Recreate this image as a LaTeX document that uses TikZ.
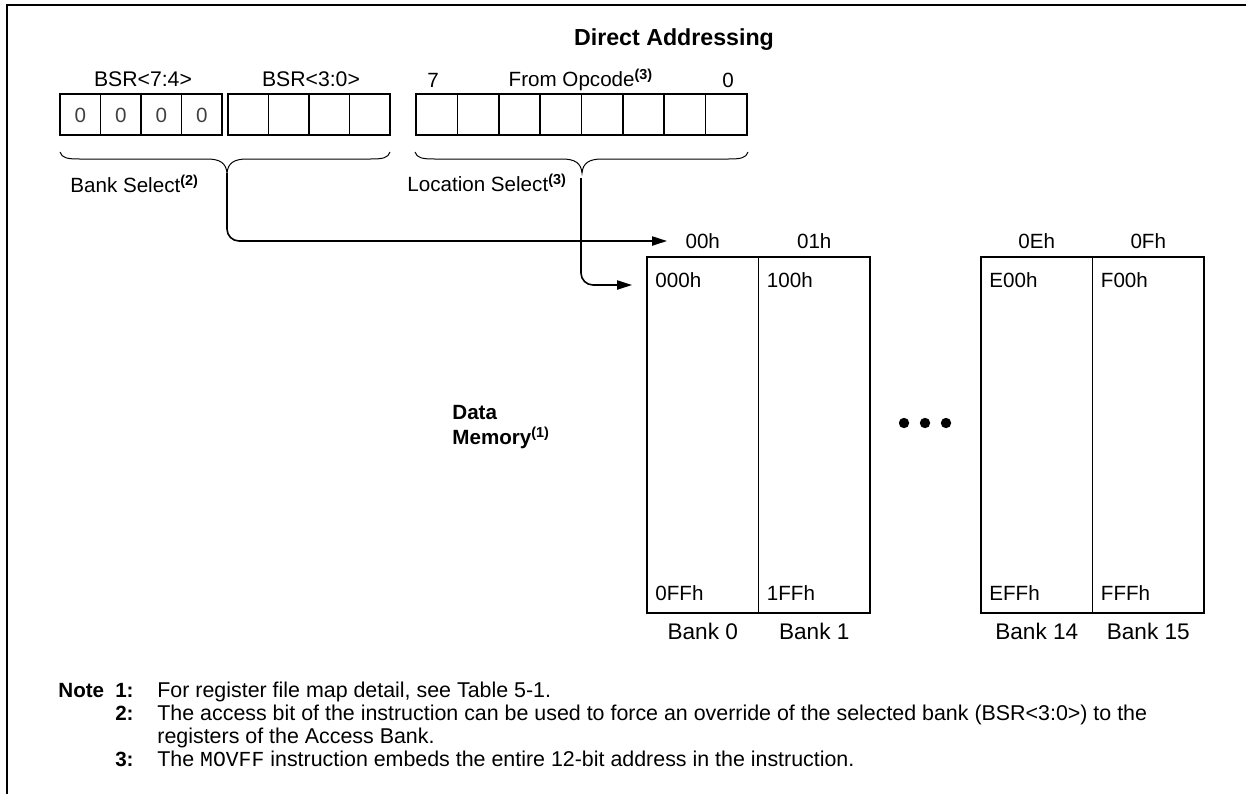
\documentclass[tikz,border=0pt]{standalone}
\usepackage{fontspec}
\setmainfont{Liberation Sans}
\setmonofont{Liberation Mono}
\usetikzlibrary{arrows.meta}
\begin{document}
\begin{tikzpicture}[x=0.5pt, y=-0.5pt,
  every node/.style={font=\fontsize{10.3}{12.5}\selectfont, inner sep=0pt},
  lbl/.style={text height=1.38ex, text depth=0pt},
  hdr/.style={font=\fontsize{10.3}{12.5}\selectfont\bfseries},
  banklbl/.style={font=\fontsize{11.3}{13}\selectfont},
  notetxt/.style={font=\fontsize{10.7}{12.5}\selectfont},
  regbox/.style={draw, line width=0.85pt},
  bankbox/.style={draw, line width=0.85pt},
  bracepath/.style={line width=0.5pt},
  link/.style={line width=0.8pt, rounded corners=6pt, -{Triangle[length=7.5pt,width=4.6pt]}}
]
\useasboundingbox (0,0) rectangle (1246,794);
\draw[line width=1.3pt] (7,794) -- (7,5) -- (1246,5);
\node[lbl, font=\fontsize{11.6}{13}\selectfont\bfseries] (title) at (674,38) {Direct Addressing};
% Registers
\draw[regbox] (60,94) rectangle (222,135);
\foreach \x in {100.5,141,181.5} \draw[regbox] (\x,94) -- (\x,135);
\foreach \x [count=\i] in {80.25,120.75,161.25,201.75} \node[lbl, text=black!75] (z\i) at (\x,115) {0};
\draw[regbox] (228,94) rectangle (390,135);
\foreach \x in {268.5,309,349.5} \draw[regbox] (\x,94) -- (\x,135);
\draw[regbox] (416,94) rectangle (747,135);
\foreach \i in {1,...,7} \draw[regbox] ({416+\i*41.375},94) -- ++(0,41);
\node[lbl, font=\fontsize{10.6}{12.5}\selectfont] (bsrhi) at (143,79) {BSR<7:4>};
\node[lbl, font=\fontsize{10.6}{12.5}\selectfont] (bsrlo) at (311,79) {BSR<3:0>};
\node[lbl] (msb) at (433,80) {7};
\node[lbl] (opc) at (581,79) {From Opcode\textsuperscript{\textbf{(3)}}};
\node[lbl] (lsb) at (728,80) {0};
% Braces
\foreach \l/\m/\r in {60/227/390, 415/582/748}
  \draw[bracepath] (\l,152) .. controls (\l+2,158) and (\l+7,159) .. (\l+20,159) -- (\m-20,159)
    .. controls (\m-7,159) and (\m-1,163) .. (\m,173) .. controls (\m+1,163) and (\m+7,159) .. (\m+20,159)
    -- (\r-20,159) .. controls (\r-7,159) and (\r-2,158) .. (\r,152);
\coordinate (bstip) at (227,173);
\coordinate (lstip) at (581,173);
\node[lbl, anchor=west] (banksel) at (70,185) {Bank Select\textsuperscript{\textbf{(2)}}};
\node[lbl, anchor=west] (locsel) at (407,184) {Location Select\textsuperscript{\textbf{(3)}}};
% Memory banks
\foreach \x/\hd/\lo/\hi/\nm/\id in {647/00h/000h/0FFh/Bank 0/b0, 758.5/01h/100h/1FFh/Bank 1/b1,
    981/0Eh/E00h/EFFh/Bank 14/b14, 1092.5/0Fh/F00h/FFFh/Bank 15/b15} {
  \draw[bankbox] (\x,257) rectangle ++(111.5,356);
  \node[lbl] (hd\id) at ({\x+55.75},241) {\hd};
  \node[lbl, anchor=west] (lo\id) at ({\x+8},280) {\lo};
  \node[lbl, anchor=west] (hi\id) at ({\x+8},593) {\hi};
  \node[lbl, banklbl] (nm\id) at ({\x+55.75},632) {\nm};
}
\foreach \x in {904,925,946} \fill (\x,423) circle (2.6pt);
\node[hdr, anchor=north west, align=left] (datamem) at (452,405) {Data\\Memory\textsuperscript{(1)}};
% Arrows
\coordinate (bsend) at (667,241);
\coordinate (lsend) at (632,285);
\draw[link] (bstip) |- (bsend);
\draw[link] ([yshift=-2.5pt]lstip) |- (lsend);
% Notes
\node[lbl, hdr, anchor=west] (notehd) at (58,690) {Note};
\node[lbl, hdr, anchor=east] (n1) at (134,690) {1:};
\node[lbl, notetxt, anchor=west] (t1) at (157,690) {For register file map detail, see Table 5-1.};
\node[lbl, hdr, anchor=east] (n2) at (134,713) {2:};
\node[lbl, notetxt, anchor=west] (t2) at (157,713) {The access bit of the instruction can be used to force an override of the selected bank (BSR<3:0>) to the};
\node[lbl, notetxt, anchor=west] (t2b) at (157,736) {registers of the Access Bank.};
\node[lbl, hdr, anchor=east] (n3) at (134,759) {3:};
\node[lbl, notetxt, anchor=west] (t3) at (157,759) {The \texttt{MOVFF} instruction embeds the entire 12-bit address in the instruction.};
\end{tikzpicture}
\end{document}
